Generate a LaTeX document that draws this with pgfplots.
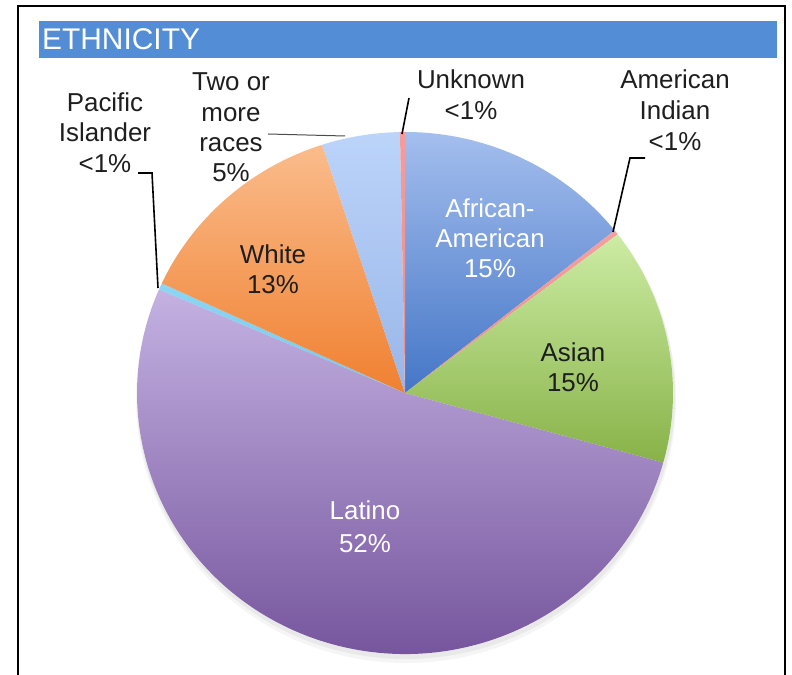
\documentclass[border=0pt]{standalone}
\usepackage{pgfplots}
\pgfplotsset{compat=1.18}
\usepackage{pgfplotstable}
\usepackage{fontspec}
\setmainfont{Liberation Sans}

% slice colours: light at the top, dark at the bottom
\definecolor{topAA}{RGB}{164,190,238}
\definecolor{botAA}{RGB}{68,118,198}
\definecolor{topAI}{RGB}{244,160,160}
\definecolor{botAI}{RGB}{236,140,140}
\definecolor{topAs}{RGB}{204,236,164}
\definecolor{botAs}{RGB}{136,178,72}
\definecolor{topLa}{RGB}{196,178,226}
\definecolor{botLa}{RGB}{112,78,152}
\definecolor{topPI}{RGB}{140,214,242}
\definecolor{botPI}{RGB}{120,200,236}
\definecolor{topWh}{RGB}{250,188,140}
\definecolor{botWh}{RGB}{240,128,48}
\definecolor{topTw}{RGB}{188,212,250}
\definecolor{botTw}{RGB}{152,182,232}
\definecolor{topUn}{RGB}{244,156,156}
\definecolor{botUn}{RGB}{236,140,140}
\definecolor{titlebar}{RGB}{83,141,213}
\definecolor{txt}{RGB}{30,30,30}

% share of each group, clockwise from 12 o'clock
\pgfplotstableread{
key value
AA 14.3
AI 0.3
As 14.7
La 52.2
PI 0.4
Wh 13.1
Tw 4.7
Un 0.3
}\ethnic

\begin{document}
\begin{tikzpicture}
\begin{axis}[
    width=792bp, height=675bp, scale only axis,
    xmin=0, xmax=792, ymin=0, ymax=675,
    y dir=reverse,
    hide axis, clip=false,
  ]
  \pgfplotsextra{
    % soft shadow under the pie
    \fill[black,opacity=0.04] (axis cs:406,399) ellipse[x radius=270bp, y radius=264bp];
    \fill[black,opacity=0.05] (axis cs:406,397) ellipse[x radius=269bp, y radius=262bp];
    \fill[white] (axis cs:405,393) ellipse[x radius=268bp, y radius=261bp];
    \def\cum{0}
    \pgfplotsforeachungrouped \i in {0,...,7}{%
      \pgfplotstablegetelem{\i}{key}\of\ethnic
      \let\k\pgfplotsretval
      \pgfplotstablegetelem{\i}{value}\of\ethnic
      \let\v\pgfplotsretval
      \pgfmathsetmacro\aS{90-3.6*\cum}%
      \pgfmathsetmacro\cum{\cum+\v}%
      \pgfmathsetmacro\aE{90-3.6*\cum}%
      \edef\doslice{\noexpand\shade[top color=top\k, bottom color=bot\k]
        (axis cs:405,393) -- (axis cs:{405+268*cos(\aS)},{393-261*sin(\aS)})
        arc[start angle=\aS, end angle=\aE, x radius=268bp, y radius=261bp] -- cycle;}%
      \doslice
    }
  }

  % frame and title bar
  \draw[line width=2bp] (axis cs:18,690) -- (axis cs:18,6) -- (axis cs:785,6) -- (axis cs:785,690);
  \fill[titlebar] (axis cs:39,21) rectangle (axis cs:777,58);
  \node[anchor=base west, white, inner sep=0, font=\fontsize{30}{33}\selectfont]
    at (axis cs:42,50) {ETHNICITY};

  % leader lines
  \draw[line width=1.6bp] (axis cs:402,134) -- (axis cs:409,98);
  \draw[line width=1.6bp] (axis cs:613,232) -- (axis cs:630,158) -- (axis cs:645,158);
  \draw[line width=1.6bp] (axis cs:158,288) -- (axis cs:152,173) -- (axis cs:138,173);
  \draw[line width=1bp, black!70] (axis cs:268,134) -- (axis cs:345,136);

  % labels
  \begin{scope}[every node/.style={anchor=base, inner sep=0, text=txt,
      font=\fontsize{26}{30}\selectfont}]
    \node at (axis cs:231,91) {Two or};
    \node at (axis cs:231,122) {more};
    \node at (axis cs:231,152) {races};
    \node at (axis cs:231,181) {5\%};
    \node at (axis cs:105,112) {Pacific};
    \node at (axis cs:105,142) {Islander};
    \node at (axis cs:105,172) {<1\%};
    \node at (axis cs:471,89) {Unknown};
    \node at (axis cs:471,120) {<1\%};
    \node at (axis cs:675,89) {American};
    \node at (axis cs:675,120) {Indian};
    \node at (axis cs:675,151) {<1\%};
    \node[text=white] at (axis cs:490,217) {African-};
    \node[text=white] at (axis cs:490,247) {American};
    \node[text=white] at (axis cs:490,277) {15\%};
    \node at (axis cs:573,361) {Asian};
    \node at (axis cs:573,391) {15\%};
    \node at (axis cs:273,263) {White};
    \node at (axis cs:273,293) {13\%};
    \node[text=white] at (axis cs:365,519) {Latino};
    \node[text=white] at (axis cs:365,552) {52\%};
  \end{scope}
\end{axis}
\pgfresetboundingbox
\path (0,0) rectangle (792bp,675bp);
\end{tikzpicture}
\end{document}
